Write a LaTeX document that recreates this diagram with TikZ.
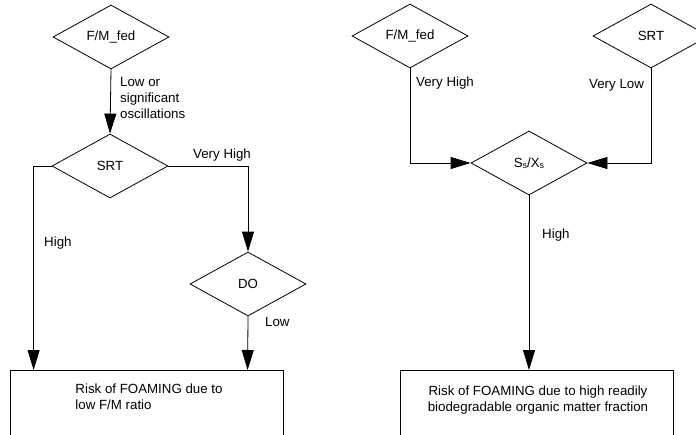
\documentclass[tikz,border=0pt]{standalone}
\usepackage{fontspec}
\setmainfont{Liberation Sans}
\usetikzlibrary{shapes.geometric,arrows.meta,calc}
\tikzset{
  dec/.style={diamond, draw, line width=0.8pt, inner sep=0pt, aspect=1.8, minimum width=116pt, minimum height=64pt},
  outbox/.style={draw, line width=0.8pt, anchor=north, minimum width=273pt, minimum height=90pt},
  lbl/.style={inner sep=0pt, anchor=west, align=left},
  arr/.style={line width=0.8pt, -{Triangle[length=20pt,width=12pt]}},
  ln/.style={line width=0.8pt},
}
\begin{document}
\begin{tikzpicture}[x=1pt,y=-1pt,font=\fontsize{13.3}{16}\selectfont]
\useasboundingbox (0,0) rectangle (696,434);
\clip (0,0) rectangle (696,434);
% left part
\node[dec] (fm1) at (111,37) {F/M\_fed};
\node[dec] (srt1) at (110,166) {SRT};
\node[dec] (do) at (248,284) {DO};
\node[outbox] (lbox) at (146.5,370) {};
\node[align=left, inner sep=0pt] (ltext) at (149,397) {Risk of FOAMING due to\\low F/M ratio};
\coordinate (lhigh) at ($(lbox.north west)+(24,0)$);
\coordinate (llow) at ($(lbox.north west)+(238,0)$);
\draw[arr] (fm1.south) -- (srt1.north);
\draw[arr] (srt1.west) -| (lhigh);
\draw[arr] (srt1.east) -| (do.north);
\draw[arr] (do.south) -- (llow);
\node[lbl] (l1) at (120,98) {Low or\\significant\\oscillations};
\node[lbl] (l2) at (193,155) {Very High};
\node[lbl] (l3) at (44,243) {High};
\node[lbl] (l4) at (265,322) {Low};
% right part
\node[dec] (fm2) at (410,36) {F/M\_fed};
\node[dec] (srt2) at (651,36) {SRT};
\node[dec] (ss) at (529,163) {S{\raisebox{-0.1ex}{\fontsize{9}{9}\selectfont s}}/X{\raisebox{-0.1ex}{\fontsize{9}{9}\selectfont s}}};
\node[outbox] (rbox) at (536.5,370) {};
\node[align=center, inner sep=0pt] (rtext) at (538,400) {Risk of FOAMING due to high readily\\biodegradable organic matter fraction};
\draw[arr] (fm2.south) |- (ss.west);
\draw[arr] (srt2.south) |- (ss.east);
\draw[arr] (ss.south) -- (ss.south |- rbox.north);
\node[lbl] (r1) at (416,83) {Very High};
\node[lbl] (r2) at (589,85) {Very Low};
\node[lbl] (r3) at (542,235) {High};
\end{tikzpicture}
\end{document}
